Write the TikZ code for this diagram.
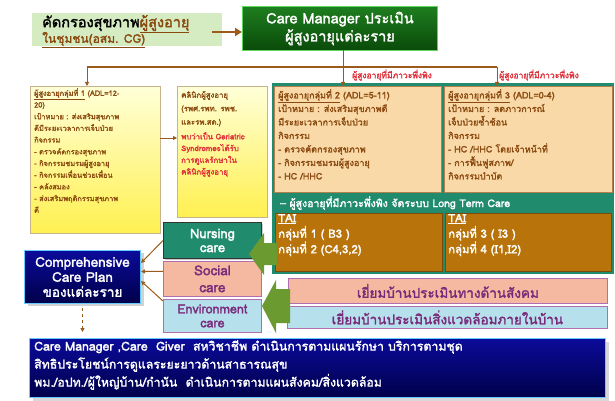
\documentclass[tikz,border=0pt]{standalone}
\usepackage{fontspec}
\setmainfont[Script=Thai, AutoFakeBold=2, BoldFeatures={FakeBold=1.6}]{Loma}
\usetikzlibrary{arrows.meta,shadows}
\definecolor{scrgreen}{HTML}{D5EBC2}
\definecolor{cmtop}{HTML}{1E7E1E}
\definecolor{cmbot}{HTML}{0A4A0A}
\definecolor{cmborder}{HTML}{5BD75B}
\definecolor{brn}{HTML}{9B5A1A}
\definecolor{txtbrn}{HTML}{8A4A10}
\definecolor{ylwtop}{HTML}{FFFFD8}
\definecolor{ylwbot}{HTML}{FFF050}
\definecolor{ylwborder}{HTML}{C8B48C}
\definecolor{teal}{HTML}{208B6D}
\definecolor{peach}{HTML}{FAD9A8}
\definecolor{peachborder}{HTML}{B08050}
\definecolor{tai}{HTML}{B8730A}
\definecolor{taiborder}{HTML}{7A4A08}
\definecolor{salmon}{HTML}{F4B9A0}
\definecolor{ltblue}{HTML}{B5E0EC}
\definecolor{purp}{HTML}{7A2A7A}
\definecolor{purpborder}{HTML}{B070B0}
\definecolor{olive}{HTML}{6B9A30}
\definecolor{navytop}{HTML}{0B0B9A}
\definecolor{navybot}{HTML}{00004A}
\definecolor{navyborder}{HTML}{66CCFF}
\definecolor{cred}{HTML}{E0303A}
\begin{document}
\begin{tikzpicture}[x=1pt,y=-1pt,
  boxnode/.style={draw, inner sep=0pt, anchor=north west},
  txt/.style={inner sep=0pt, anchor=north west, align=left},
  brnarrow/.style={draw=brn, line width=1pt, -{Triangle[length=4pt,width=4pt]}},
  busline/.style={draw=brn, line width=1.2pt},
  greenarrow/.style={fill=olive, draw=none}
]
\useasboundingbox[fill=white] (0,0) rectangle (615,401);

% screening box
\node[boxnode, draw=none, fill=scrgreen, minimum width=190, minimum height=33] (scr) at (32,13) {};
\node[txt, anchor=west, font={\fontsize{14.5}{16}\selectfont\bfseries}] (scrt1) at (42,24) {คัดกรองสุขภาพ\textcolor{txtbrn}{\underline{ผู้สูงอายุ}}};
\node[txt, anchor=west, font={\fontsize{12}{13}\selectfont\bfseries}, text=txtbrn] (scrt2) at (42,40) {\underline{ในชุมชน(อสม. CG)}};

% Care manager box
\node[boxnode, draw=cmborder, line width=1pt, top color=cmtop, bottom color=cmbot, minimum width=195, minimum height=44, align=center, text=white, font={\fontsize{14.5}{18}\selectfont\bfseries}] (cm) at (242,6) {Care Manager ประเมิน\\ผู้สูงอายุแต่ละราย};
\coordinate (scrA) at (212,32);
\draw[draw=brn, line width=2pt, -{Triangle[length=7pt,width=8pt]}] (scrA) -- (scrA -| cm.west);

% group 1 box
\node[boxnode, draw=ylwborder, line width=0.8pt, top color=ylwtop, bottom color=ylwbot, minimum width=130, minimum height=147] (g1) at (30,86) {};
\node[txt, text=txtbrn, font={\fontsize{7.4}{11.7}\selectfont\bfseries}] (g1t) at (34,88) {\underline{ผู้สูงอายุกลุ่มที่ 1} (ADL=12-\\20)\\เป้าหมาย : ส่งเสริมสุขภาพ\\ดีมีระยะเวลาการเจ็บป่วย\\กิจกรรม\\- ตรวจคัดกรองสุขภาพ\\- กิจกรรมชมรมผู้สูงอายุ\\- กิจกรรมเพื่อนช่วยเพื่อน\\- คลังสมอง\\- ส่งเสริมพฤติกรรมสุขภาพ\\ดี};

% clinic box
\node[boxnode, draw=ylwborder, line width=0.8pt, top color=ylwtop, bottom color=ylwbot, minimum width=90, minimum height=131] (clinic) at (177,86) {};
\node[txt, text=txtbrn, font={\fontsize{7.8}{13.5}\selectfont\bfseries}] (clinict) at (181,91) {คลินิกผู้สูงอายุ\\(รพศ.รพท. รพช.\\และรพ.สต.)};
\node[txt, text=cred, font={\fontsize{7.8}{11.7}\selectfont\bfseries}] (clinicr) at (181,132) {พบว่าเป็น Geriatric\\Syndromesได้รับ\\การดูแลรักษาใน\\คลินิกผู้สูงอายุ};
\coordinate (g1out) at (160,138);
\draw[brnarrow] (g1out) -- (g1out -| clinic.west);

% teal panel
\node[boxnode, draw=none, fill=teal, minimum width=342, minimum height=191] (panel) at (272,83) {};
\node[boxnode, draw=peachborder, line width=0.6pt, fill=peach, minimum width=167, minimum height=106] (g2) at (274,86) {};
\node[boxnode, draw=peachborder, line width=0.6pt, fill=peach, minimum width=168, minimum height=106] (g3) at (444,86) {};
\node[txt, text=txtbrn, font={\fontsize{9}{13.5}\selectfont\bfseries}] (g2t) at (278,89) {\underline{ผู้สูงอายุกลุ่มที่ 2} (ADL=5-11)\\เป้าหมาย : ส่งเสริมสุขภาพดี\\มีระยะเวลาการเจ็บป่วย\\กิจกรรม\\- ตรวจคัดกรองสุขภาพ\\- กิจกรรมชมรมผู้สูงอายุ\\- HC /HHC};
\node[txt, text=txtbrn, font={\fontsize{9}{13.5}\selectfont\bfseries}] (g3t) at (448,89) {\underline{ผู้สูงอายุกลุ่มที่ 3} (ADL=0-4)\\เป้าหมาย : ลดภาวการณ์\\เจ็บป่วยซ้ำซ้อน\\กิจกรรม\\- HC /HHC โดยเจ้าหน้าที่\\- การฟื้นฟูสภาพ/\\กิจกรรมบำบัด};
\node[txt, anchor=west, text=white, font={\fontsize{10.5}{12}\selectfont\bfseries}] (strip) at (280,203) {– ผู้สูงอายุที่มีภาวะพึ่งพิง จัดระบบ Long Term Care};
\node[boxnode, draw=taiborder, line width=0.6pt, fill=tai, minimum width=167, minimum height=58] (tai1) at (275,213) {};
\node[boxnode, draw=taiborder, line width=0.6pt, fill=tai, minimum width=166, minimum height=58] (tai2) at (445,213) {};
\node[txt, text=white, font={\fontsize{11.3}{15.5}\selectfont\bfseries}] (tai1t) at (278,214) {\underline{TAI}\\กลุ่มที่ 1 ( B3 )\\กลุ่มที่ 2 (C4,3,2)};
\node[txt, text=white, font={\fontsize{11.3}{15.5}\selectfont\bfseries}] (tai2t) at (448,214) {\underline{TAI}\\กลุ่มที่ 3 ( I3 )\\กลุ่มที่ 4 (I1,I2)};

% bus connectors
\coordinate (cmdrop) at (343,50);
\coordinate (busL) at (87,67);
\coordinate (busR) at (497,67);
\draw[busline] (busL) -- (busR);
\draw[brnarrow] (busL) -- (busL |- g1.north);
\draw[brnarrow] (cmdrop) -- (cmdrop |- g2.north);
\draw[brnarrow] (busR) -- (busR |- g3.north);
\node[txt, anchor=west, text=cred, font={\fontsize{8.5}{10}\selectfont\bfseries}] (lab2) at (352,75) {ผู้สูงอายุที่มีภาวะพึ่งพิง};
\node[txt, anchor=west, text=cred, font={\fontsize{8.5}{10}\selectfont\bfseries}] (lab3) at (499,75) {ผู้สูงอายุที่มีภาวะพึ่งพิง};

% care boxes
\node[boxnode, draw=black!80, line width=1pt, fill=teal, minimum width=98, minimum height=36, align=center, text=white, font={\fontsize{13}{14}\selectfont\bfseries}, drop shadow={opacity=0.4, shadow xshift=1.5pt, shadow yshift=-1.5pt}] (nurse) at (163,222) {Nursing\\care};
\node[boxnode, draw=purpborder, line width=0.8pt, fill=salmon, minimum width=98, minimum height=35, align=center, text=purp, font={\fontsize{13.5}{17}\selectfont\bfseries}] (social) at (163,261) {Social\\care};
\node[boxnode, draw=purpborder, line width=0.8pt, fill=ltblue, minimum width=98, minimum height=33, align=center, text=purp, font={\fontsize{12.5}{14}\selectfont\bfseries}] (env) at (163,299) {Environment\\care};

% visit bars
\node[boxnode, draw=purpborder, line width=0.8pt, fill=salmon, minimum width=319, minimum height=25] (bar1) at (288,278) {};
\node[txt, anchor=center, text=purp, font={\fontsize{13.5}{14}\selectfont\bfseries}] (bar1t) at (bar1.center) {เยี่ยมบ้านประเมินทางด้านสังคม};
\node[boxnode, draw=purpborder, line width=0.8pt, fill=ltblue, minimum width=320, minimum height=22] (bar2) at (287,306) {};
\node[txt, anchor=center, text=purp, font={\fontsize{13.5}{14}\selectfont\bfseries}] (bar2t) at (bar2.center) {เยี่ยมบ้านประเมินสิ่งแวดล้อมภายในบ้าน};

% green arrows
\fill[greenarrow] (277,243) -- (264,243) -- (264,233) -- (249,254) -- (264,275) -- (264,265) -- (277,265) -- cycle;
\fill[greenarrow] (290,289) -- (276,289) -- (276,280) -- (262,306) -- (276,333) -- (276,323) -- (290,323) -- cycle;

% CCP
\node[boxnode, draw=navyborder, line width=1pt, top color=navytop, bottom color=navybot, minimum width=116, minimum height=53, align=center, text=white, font={\fontsize{13.5}{15}\selectfont\bfseries}, drop shadow={opacity=0.35, shadow xshift=3pt, shadow yshift=-2pt}] (ccp) at (24,250) {Comprehensive\\Care Plan\\ของแต่ละราย};
\draw[brnarrow] (nurse.west) -- ([yshift=14pt]ccp.east);
\draw[brnarrow] ([yshift=7.5pt]social.west) -- ([yshift=5.5pt]ccp.east);
\draw[brnarrow] ([yshift=-2pt]env.north west) -- ([yshift=-4pt]ccp.east);

% bottom box
\node[boxnode, draw=navyborder, line width=1pt, top color=navytop, bottom color=navybot, minimum width=576, minimum height=59, drop shadow={opacity=0.3, shadow xshift=3pt, shadow yshift=-3pt}] (bot) at (29,338) {};
\node[txt, text=white, font={\fontsize{12.3}{18}\selectfont\bfseries}] (bott) at (34,340) {Care Manager ,Care~~Giver~~สหวิชาชีพ ดำเนินการตามแผนรักษา บริการตามชุด\\สิทธิประโยชน์การดูแลระยะยาวด้านสาธารณสุข\\พม./อปท./ผู้ใหญ่บ้าน/กำนัน~~ดำเนินการตามแผนสังคม/สิ่งแวดล้อม};
\draw[draw=brn, line width=1pt, dashed, -{Triangle[length=4pt,width=4pt]}] ([yshift=-4pt]ccp.south) -- ([yshift=6pt]ccp.south |- bot.north);
\end{tikzpicture}
\end{document}
